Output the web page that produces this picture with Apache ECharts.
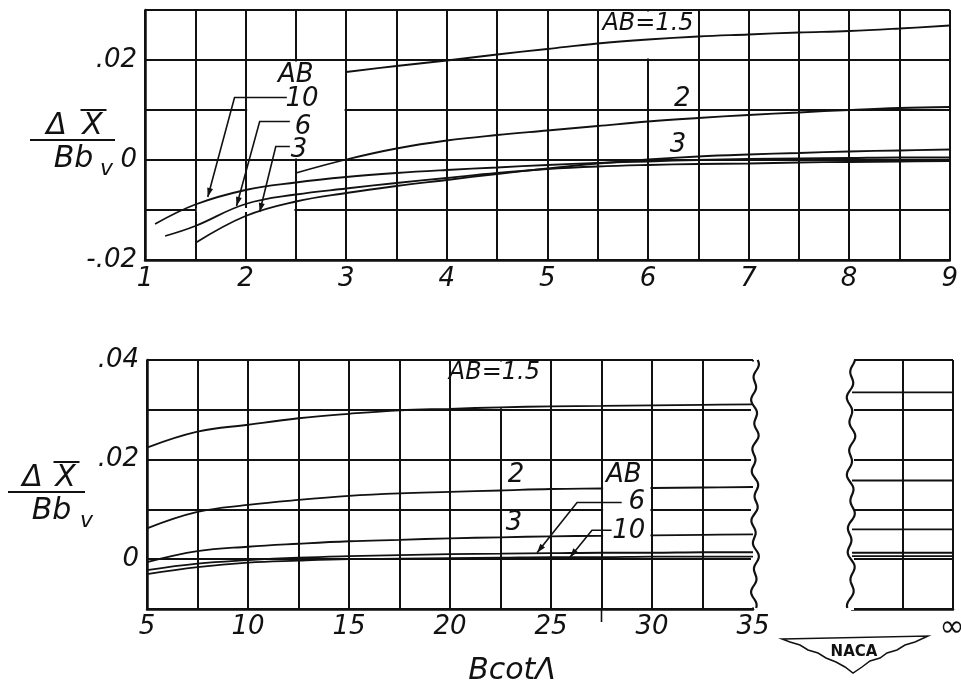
<!DOCTYPE html>
<html><head><meta charset="utf-8">
<script src="https://cdn.jsdelivr.net/npm/echarts@6/dist/echarts.min.js"></script>
<style>html,body{margin:0;padding:0;background:#fff}#c{width:961px;height:692px}</style>
</head><body><div id="c"></div>
<script>
// ---------- tick labels ----------
const topXLabels = ['1','2','3','4','5','6','7','8','9'];
const topYLabels = ['-.02','','0','','.02',''];        // -0.02 .. 0.03
const botXLabels = ['5','10','15','20','25','30','35'];
const botYLabels = ['','0','','.02','','.04'];          // -0.01 .. 0.04
const xTitle = 'BcotΛ';

// ---------- top panel (B cot Λ from 1 to 9) ----------
const topX_AB15 = [3, 3.5, 4, 4.5, 5, 5.5, 6, 6.5, 7, 7.5, 8, 8.5, 9];
const topY_AB15 = [0.0176, 0.0188, 0.0199, 0.0211, 0.0222, 0.0233, 0.0241, 0.0247, 0.0251, 0.0255, 0.0258, 0.0263, 0.0269];
const topX_AB2 = [2.5, 3, 3.5, 4, 4.5, 5, 5.5, 6, 6.5, 7, 7.5, 8, 8.5, 9];
const topY_AB2 = [-0.0026, 0.0001, 0.0023, 0.0039, 0.0050, 0.0059, 0.0068, 0.0077, 0.0084, 0.0090, 0.0095, 0.0100, 0.0104, 0.0106];
const topX_AB3 = [1.5, 2, 2.5, 3, 3.5, 4, 4.5, 5, 5.5, 6, 6.5, 7, 7.5, 8, 8.5, 9];
const topY_AB3 = [-0.0166, -0.0112, -0.0083, -0.0066, -0.0052, -0.0040, -0.0028, -0.0017, -0.0007, 0.0001, 0.0007, 0.0011, 0.0014, 0.0017, 0.0019, 0.0021];
const topX_AB6 = [1.2, 1.5, 2, 2.5, 3, 3.5, 4, 4.5, 5, 5.5, 6, 6.5, 7, 7.5, 8, 8.5, 9];
const topY_AB6 = [-0.0152, -0.0132, -0.0088, -0.0069, -0.0057, -0.0046, -0.0036, -0.0026, -0.0018, -0.0013, -0.0010, -0.0008, -0.0007, -0.0005, -0.0004, -0.0003, -0.0002];
const topX_AB10 = [1.1, 1.5, 2, 2.5, 3, 3.5, 4, 4.5, 5, 5.5, 6, 6.5, 7, 7.5, 8, 8.5, 9];
const topY_AB10 = [-0.0128, -0.0089, -0.0060, -0.0045, -0.0034, -0.0026, -0.0020, -0.0015, -0.0010, -0.0006, -0.0003, 0.0000, 0.0002, 0.0003, 0.0004, 0.0005, 0.0005];

// ---------- bottom panel (B cot Λ from 5 to 35) ----------
const botX = [5, 7.5, 10, 12.5, 15, 17.5, 20, 22.5, 25, 27.5, 30, 32.5, 35];
const botY_AB15 = [0.0224, 0.0256, 0.0270, 0.0283, 0.0292, 0.0299, 0.0302, 0.0305, 0.0307, 0.0308, 0.0309, 0.0310, 0.0311];
const botY_AB2  = [0.0062, 0.0095, 0.0109, 0.0119, 0.0127, 0.0132, 0.0135, 0.0138, 0.0141, 0.0142, 0.0143, 0.0144, 0.0145];
const botY_AB3  = [-0.0006, 0.0016, 0.0025, 0.0031, 0.0036, 0.0039, 0.0042, 0.0044, 0.0046, 0.0047, 0.0048, 0.0049, 0.0050];
const botY_AB6  = [-0.0022, -0.0009, -0.0002, 0.0003, 0.0006, 0.0008, 0.0010, 0.0011, 0.0012, 0.0013, 0.0013, 0.0014, 0.0014];
const botY_AB10 = [-0.0030, -0.0016, -0.0007, -0.0003, 0.0000, 0.0001, 0.0002, 0.0003, 0.0004, 0.0004, 0.0005, 0.0005, 0.0005];

// ---------- B cot Λ = ∞ values (AB = 1.5, 2, 3, 6, 10) ----------
const infAB = ['1.5', '2', '3', '6', '10'];
const infY = [0.0335, 0.0158, 0.0060, 0.0013, 0.0006];

// ---------------------------------------------------------------
const INK = '#111';
const FONT = "'DejaVu Sans', 'Liberation Sans', sans-serif";
const zip = (xs, ys) => xs.map((x, i) => [x, ys[i]]);
const near = (a, b) => Math.abs(a - b) < 1e-7;

function lineSeries(name, data, gi) {
  return {
    type: 'line', name, data, xAxisIndex: gi, yAxisIndex: gi,
    showSymbol: false, smooth: 0.4, silent: true, z: 3,
    lineStyle: { color: INK, width: 1.8 }
  };
}
const lbl = (fmt, margin) => ({
  show: true, color: INK, fontSize: 26, fontStyle: 'italic', fontFamily: FONT,
  margin, formatter: fmt, showMinLabel: true, showMaxLabel: true
});
const split = { show: true, lineStyle: { color: INK, width: 2 } };
const axLine = { show: true, onZero: false, lineStyle: { color: INK, width: 2.5 } };

const option = {
  animation: false,
  backgroundColor: '#fff',
  grid: [
    { left: 145, top: 10, width: 808, height: 250 },
    { left: 147, top: 360, width: 606, height: 249 },
    { left: 852, top: 360, width: 101, height: 249 }
  ],
  xAxis: [
    { type: 'value', gridIndex: 0, min: 1, max: 9, interval: 0.5,
      axisLine: axLine, axisTick: { show: false }, splitLine: split,
      axisLabel: lbl(v => { const k = v - 1; return near(k, Math.round(k)) ? topXLabels[Math.round(k)] : ''; }, 6) },
    { type: 'value', gridIndex: 1, min: 5, max: 35, interval: 2.5,
      axisLine: axLine, axisTick: { show: false }, splitLine: split,
      axisLabel: lbl(v => { const k = (v - 5) / 5; return near(k, Math.round(k)) ? botXLabels[Math.round(k)] : ''; }, 5) },
    { type: 'value', gridIndex: 2, min: 0, max: 2, interval: 1,
      axisLine: axLine, axisTick: { show: false }, splitLine: split, axisLabel: { show: false } }
  ],
  yAxis: [
    { type: 'value', gridIndex: 0, min: -0.02, max: 0.03, interval: 0.01,
      axisLine: axLine, axisTick: { show: false }, splitLine: split,
      axisLabel: lbl(v => topYLabels[Math.round((v + 0.02) / 0.01)] || '', 8) },
    { type: 'value', gridIndex: 1, min: -0.01, max: 0.04, interval: 0.01,
      axisLine: axLine, axisTick: { show: false }, splitLine: split,
      axisLabel: lbl(v => botYLabels[Math.round((v + 0.01) / 0.01)] || '', 8) },
    { type: 'value', gridIndex: 2, min: -0.01, max: 0.04, interval: 0.01,
      axisLine: { show: false }, axisTick: { show: false }, splitLine: split, axisLabel: { show: false } }
  ],
  series: [
    lineSeries('AB=1.5', zip(topX_AB15, topY_AB15), 0),
    lineSeries('AB=2', zip(topX_AB2, topY_AB2), 0),
    lineSeries('AB=3', zip(topX_AB3, topY_AB3), 0),
    lineSeries('AB=6', zip(topX_AB6, topY_AB6), 0),
    lineSeries('AB=10', zip(topX_AB10, topY_AB10), 0),
    lineSeries('AB=1.5', zip(botX, botY_AB15), 1),
    lineSeries('AB=2', zip(botX, botY_AB2), 1),
    lineSeries('AB=3', zip(botX, botY_AB3), 1),
    lineSeries('AB=6', zip(botX, botY_AB6), 1),
    lineSeries('AB=10', zip(botX, botY_AB10), 1)
  ].concat(infY.map((v, i) => Object.assign(
    lineSeries('AB=' + infAB[i] + ' (∞)', [[0, v], [2, v]], 2), { smooth: false })))
};

const chart = echarts.init(document.getElementById('c'));
chart.setOption(option);

// ---------- annotations (positioned through the axes) ----------
const P = (g, x, y) => chart.convertToPixel({ gridIndex: g }, [x, y]);
const G = [];
function whiteBox(g, x1, x2, y1, y2, z) {
  const a = P(g, x1, y2), b = P(g, x2, y1);
  G.push({ type: 'rect', z, silent: true,
    shape: { x: a[0] + 1.6, y: a[1] + 1.6, width: b[0] - a[0] - 3.2, height: b[1] - a[1] - 3.2 },
    style: { fill: '#fff' } });
}
function text(str, x, y, size, extra) {
  G.push(Object.assign({ type: 'text', z: 10, silent: true, x, y,
    style: { text: str, font: 'italic ' + size + 'px ' + FONT, fill: INK,
      align: 'center', verticalAlign: 'middle', textAlign: 'center', textVerticalAlign: 'middle' } }, extra || {}));
}
function dtext(g, str, x, y, size) { const p = P(g, x, y); text(str, p[0], p[1], size); }
function leader(g, pts) {
  const px = pts.map(p => P(g, p[0], p[1]));
  G.push({ type: 'polyline', z: 10, silent: true, shape: { points: px },
    style: { stroke: INK, lineWidth: 1.6, fill: null } });
  const t = px[px.length - 1], s = px[px.length - 2];
  let dx = t[0] - s[0], dy = t[1] - s[1]; const L = Math.hypot(dx, dy); dx /= L; dy /= L;
  const h = 9, w = 3;
  G.push({ type: 'polygon', z: 10, silent: true,
    shape: { points: [t, [t[0] - dx * h - dy * w, t[1] - dy * h + dx * w], [t[0] - dx * h + dy * w, t[1] - dy * h - dx * w]] },
    style: { fill: INK } });
}
function wavy(x0, yTop, yBot, amp, lam, phase) {
  const pts = [];
  for (let y = yTop; y <= yBot; y += 2) {
    pts.push([x0 + amp * Math.sin(2 * Math.PI * (y - yTop) / lam + phase) + 0.8 * amp * Math.sin(2 * Math.PI * (y - yTop) / (lam * 2.7) + 1.1), y]);
  }
  G.push({ type: 'polyline', z: 9, silent: true, shape: { points: pts }, style: { stroke: INK, lineWidth: 2.2, fill: null } });
}

// gaps in the grid where the labels sit
whiteBox(0, 2, 3, 0, 0.02, 1);
whiteBox(0, 5.5, 6.5, 0.02, 0.03, 1);
whiteBox(1, 20, 25, 0.03, 0.04, 1);
whiteBox(1, 27.5, 30, 0.0022, 0.0158, 5);
whiteBox(1, 27.5, 30, -0.01, -0.0008, 1);
{ const a = P(0, 1.5, -0.01), b = P(0, 2.5, -0.01);
  G.push({ type: 'rect', z: 1, silent: true, shape: { x: a[0] + 1.5, y: a[1] - 2, width: b[0] - a[0] - 3, height: 4 }, style: { fill: '#fff' } }); }

// broken edges (wavy) replacing straight borders
{ const a = P(1, 35, 0.04), b = P(1, 35, -0.01);
  G.push({ type: 'rect', z: 1, silent: true, shape: { x: a[0] - 2, y: a[1] + 1.5, width: 4, height: b[1] - a[1] - 3 }, style: { fill: '#fff' } });
  wavy(a[0] + 2, a[1], b[1], 2.2, 24, 0.5); }
{ const a = P(2, 0, 0.04), b = P(2, 0, -0.01);
  G.push({ type: 'rect', z: 1, silent: true, shape: { x: a[0] - 2, y: a[1] - 1, width: 4, height: b[1] - a[1] + 2 }, style: { fill: '#fff' } });
  wavy(a[0] - 1, a[1], b[1], 2.4, 26, 2.0); }
{ const a = P(1, 27.5, -0.01);
  G.push({ type: 'line', z: 9, silent: true, shape: { x1: a[0], y1: a[1], x2: a[0], y2: a[1] + 13 }, style: { stroke: INK, lineWidth: 1.6 } }); }

// in-plot labels, top panel
dtext(0, 'AB=1.5', 6.0, 0.0272, 24);
dtext(0, '2', 6.34, 0.0122, 26);
dtext(0, '3', 6.30, 0.0029, 26);
dtext(0, 'AB', 2.5, 0.0170, 26);
dtext(0, '10', 2.56, 0.0121, 26);
dtext(0, '6', 2.57, 0.0066, 26);
dtext(0, '3', 2.53, 0.0020, 26);
leader(0, [[2.41, 0.0125], [1.89, 0.0125], [1.624, -0.0074]]);
leader(0, [[2.44, 0.0077], [2.14, 0.0077], [1.91, -0.0092]]);
leader(0, [[2.44, 0.0027], [2.30, 0.0027], [2.14, -0.0104]]);

// in-plot labels, bottom panel
dtext(1, 'AB=1.5', 22.2, 0.0375, 24);
dtext(1, '2', 23.27, 0.0168, 26);
dtext(1, '3', 23.17, 0.0072, 26);
dtext(1, 'AB', 28.6, 0.0168, 26);
dtext(1, '6', 29.25, 0.0114, 26);
dtext(1, '10', 28.85, 0.0056, 26);
leader(1, [[28.5, 0.0114], [26.29, 0.0114], [24.31, 0.0013]]);
leader(1, [[28.0, 0.0058], [27.03, 0.0058], [25.94, 0.0004]]);

// y-axis titles  ΔX̄ / Bb_v
function yTitle(cx, lineY, half, o) {
  text('Δ', cx + o.d, lineY - 14, 30);
  text('X', cx + o.x, lineY - 14, 30);
  G.push({ type: 'line', z: 10, silent: true, shape: { x1: cx + o.x - 12, y1: lineY - 30, x2: cx + o.x + 14, y2: lineY - 30 }, style: { stroke: INK, lineWidth: 2 } });
  G.push({ type: 'line', z: 10, silent: true, shape: { x1: cx - half, y1: lineY, x2: cx + half, y2: lineY }, style: { stroke: INK, lineWidth: 2 } });
  text('Bb', cx + o.b, lineY + 19, 30);
  text('v', cx + o.v, lineY + 29, 22);
}
yTitle(72.5, 140, 42.5, { d: -16, x: 20, b: 1, v: 34 });
yTitle(46.5, 492, 38.5, { d: -14, x: 19, b: 5, v: 40 });

// x-axis title
text(xTitle, 512, 671, 30);
// infinity mark for the right-hand panel
text('∞', 952, 628, 30);

// NACA emblem
G.push({ type: 'polygon', z: 10, silent: true,
  shape: { points: [[782, 639], [928, 636], [915, 642], [905, 645], [897, 650], [887, 653], [880, 658], [870, 661], [862, 667], [853, 673], [845, 667], [836, 662], [826, 658], [818, 653], [808, 650], [800, 645], [790, 642]] },
  style: { fill: '#fff', stroke: INK, lineWidth: 1.5 } });
G.push({ type: 'text', z: 11, silent: true, x: 854, y: 652,
  style: { text: 'NACA', font: 'bold 15px ' + FONT, fill: INK, align: 'center', verticalAlign: 'middle', textAlign: 'center', textVerticalAlign: 'middle' } });

chart.setOption({ graphic: G });
</script>
</body></html>
